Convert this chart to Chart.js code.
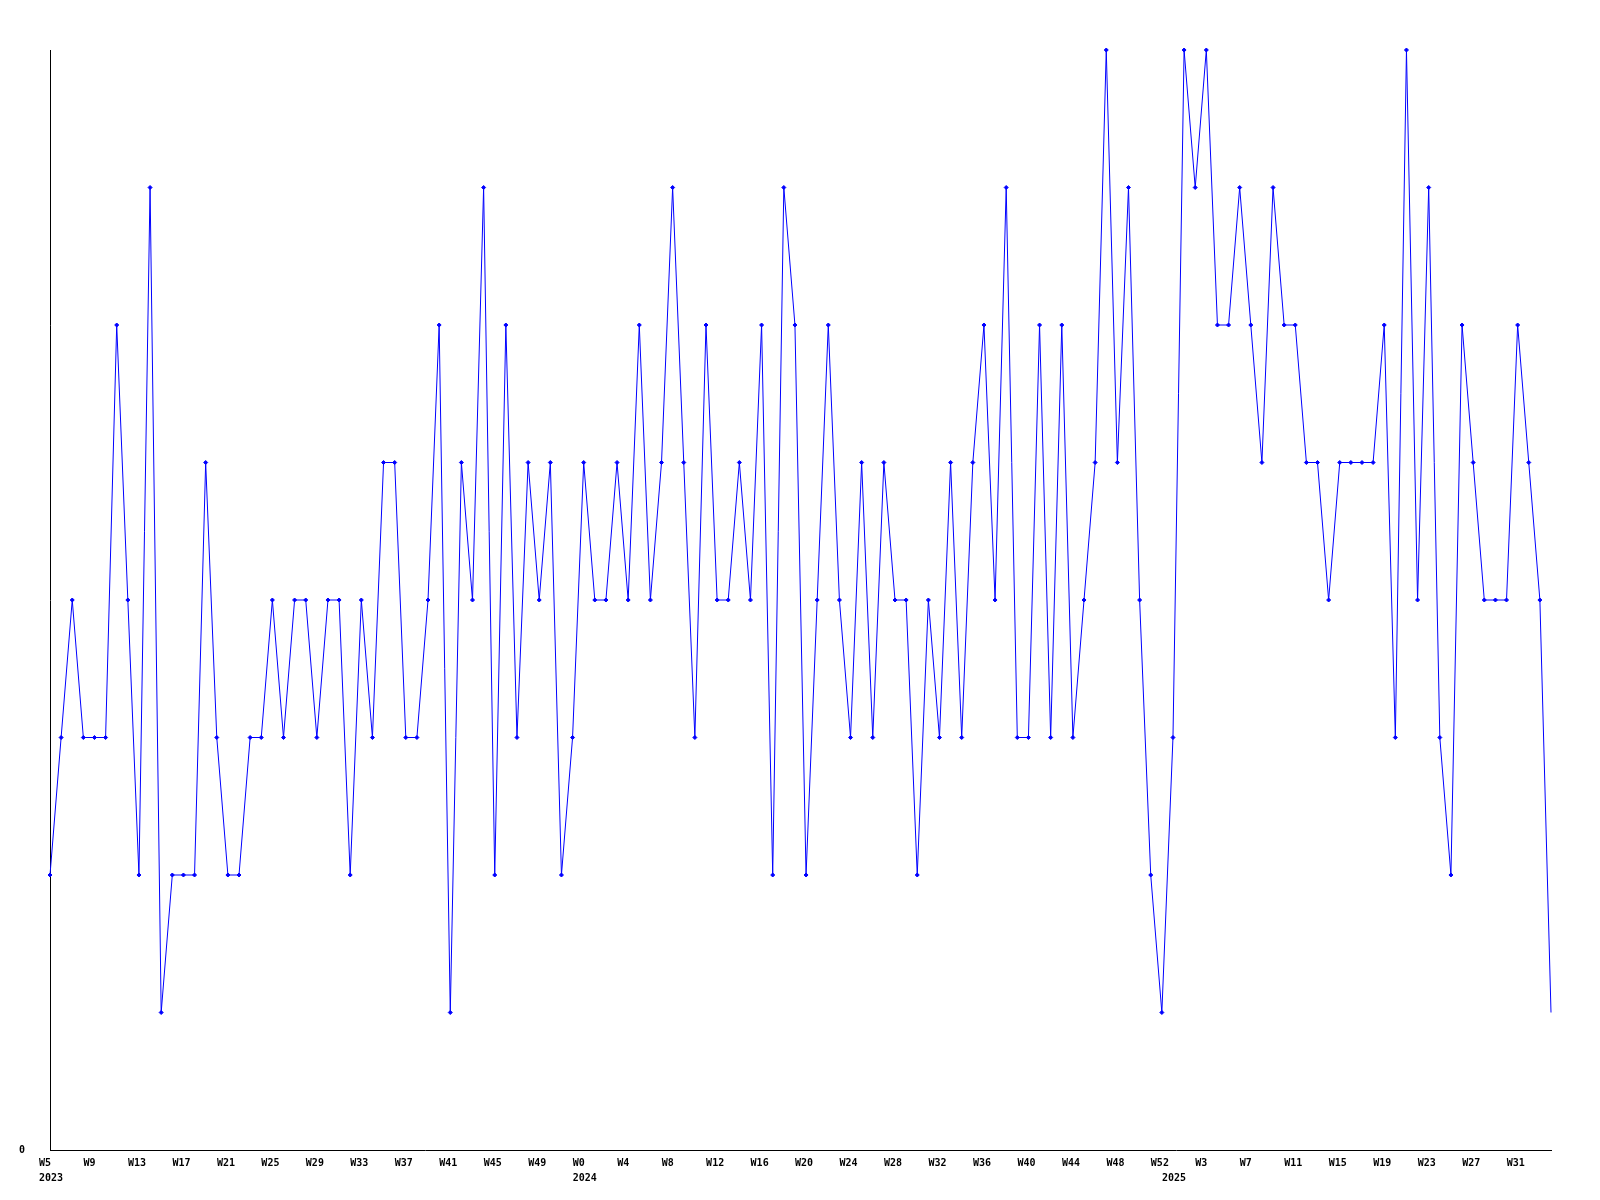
<!DOCTYPE html>
<html>
<head>
<meta charset="utf-8">
<script src="https://cdn.jsdelivr.net/npm/chart.js@4/dist/chart.umd.min.js"></script>
<style>
    body { margin: 0; background: #fff; }
    #wrap { width: 1600px; height: 1200px; }
</style>
</head>
<body>
<div id="wrap"><canvas id="chart" width="1600" height="1200"></canvas></div>
<script>
// week ranges per year: [year, first week, last week]
var years = [2023, 2024, 2025];
var firstWeek = [5, 0, 0];
var lastWeek = [52, 52, 34];

// weekly values
var values2023 = [2, 3, 4, 3, 3, 3, 6, 4, 2, 7, 1, 2, 2, 2, 5, 3, 2, 2, 3, 3, 4, 3, 4, 4, 3, 4, 4, 2, 4, 3, 5, 5, 3, 3, 4, 6, 1, 5, 4, 7, 2, 6, 3, 5, 4, 5, 2, 3];
var values2024 = [5, 4, 4, 5, 4, 6, 4, 5, 7, 5, 3, 6, 4, 4, 5, 4, 6, 2, 7, 6, 2, 4, 6, 4, 3, 5, 3, 5, 4, 4, 2, 4, 3, 5, 3, 5, 6, 4, 7, 3, 3, 6, 3, 6, 3, 4, 5, 8, 5, 7, 4, 2, 1];
var values2025 = [3, 8, 7, 8, 6, 6, 7, 6, 5, 7, 6, 6, 5, 5, 4, 5, 5, 5, 5, 6, 3, 8, 4, 7, 3, 2, 6, 5, 4, 4, 4, 6, 5, 4, 1];

var yMin = 0;
var yMax = 8;
var yTicks = [0];
var tickEvery = 4;

// categories "YYYY-Www"
var weekLabels = [];
var weekNo = [];
var weekYear = [];
for (var y = 0; y < years.length; y++) {
    for (var w = firstWeek[y]; w <= lastWeek[y]; w++) {
        weekLabels.push(years[y] + '-W' + w);
        weekNo.push(w);
        weekYear.push(years[y]);
    }
}
var allValues = values2023.concat(values2024, values2025);

// no marker on the last point
var radii = allValues.map(function (v, i) { return i === allValues.length - 1 ? 0 : 2; });

var font = { family: 'DejaVu Sans Mono', size: 10, weight: 'bold' };

new Chart(document.getElementById('chart'), {
    type: 'line',
    data: {
        labels: weekLabels,
        datasets: [{
            data: allValues,
            borderColor: '#0000ff',
            borderWidth: 1,
            tension: 0,
            fill: false,
            clip: false,
            pointStyle: 'rectRot',
            pointRadius: radii,
            pointBackgroundColor: '#0000ff',
            pointBorderColor: '#0000ff',
            pointBorderWidth: 1,
            xAxisID: 'x',
            yAxisID: 'y'
        }]
    },
    options: {
        responsive: false,
        devicePixelRatio: 1,
        animation: false,
        events: [],
        layout: { padding: { top: 50, right: 49, left: 0, bottom: 0 } },
        plugins: {
            legend: { display: false },
            tooltip: { enabled: false }
        },
        scales: {
            x: {
                type: 'category',
                position: 'bottom',
                weight: 0,
                offset: false,
                grid: { display: false, drawTicks: false },
                border: { display: true, color: '#000', width: 1 },
                ticks: {
                    autoSkip: false,
                    maxRotation: 0,
                    minRotation: 0,
                    align: 'start',
                    labelOffset: -11,
                    padding: 7,
                    color: '#000',
                    font: font,
                    callback: function (val, i) {
                        return i % tickEvery === 0 ? 'W' + weekNo[i] : null;
                    }
                },
                afterFit: function (scale) { scale.height = 20; }
            },
            year: {
                type: 'category',
                position: 'bottom',
                weight: 1,
                offset: false,
                grid: { display: false, drawTicks: false },
                border: { display: false },
                ticks: {
                    autoSkip: false,
                    maxRotation: 0,
                    minRotation: 0,
                    align: 'start',
                    labelOffset: -11,
                    padding: 2,
                    color: '#000',
                    font: font,
                    callback: function (val, i) {
                        return (i === 0 || weekNo[i] === 0) ? String(weekYear[i]) : null;
                    }
                },
                afterFit: function (scale) { scale.height = 30; }
            },
            y: {
                min: yMin,
                max: yMax,
                grid: { display: false, drawTicks: false },
                border: { display: true, color: '#000', width: 1 },
                ticks: {
                    stepSize: 1,
                    padding: 25,
                    color: '#000',
                    font: font,
                    callback: function (v) { return yTicks.indexOf(v) >= 0 ? String(v) : null; }
                },
                afterFit: function (scale) { scale.width = 50; }
            }
        }
    }
});
</script>
</body>
</html>
